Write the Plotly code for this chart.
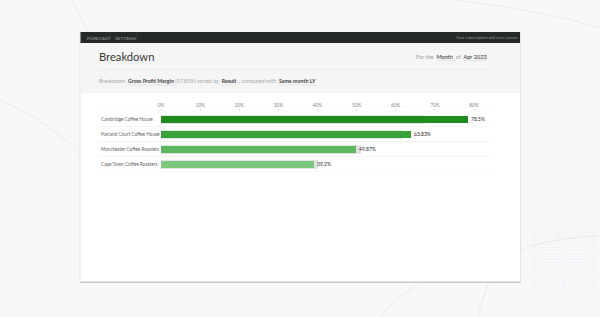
import plotly.graph_objects as go

# ---- data ----
categories = ["Cambridge Coffee House", "Harland Court Coffee House",
              "Manchester Coffee Roasters", "Cape Town Coffee Roasters"]
result_values = [78.5, 63.83, 49.87, 39.2]
comparison_values = [67.5, 61.6, 51.1, 40.0]
value_labels = ["78.5%", "63.83%", "49.87%", "39.2%"]
bar_colors = ["#1e8c1e", "#38a238", "#5cb85c", "#7cc87c"]
tick_values = [0, 10, 20, 30, 40, 50, 60, 70, 80]
tick_labels = ["0%", "10%", "20%", "30%", "40%", "50%", "60%", "70%", "80%"]

W, H = 600, 317
def px(x): return x / W
def py(y): return 1 - y / H

FONT = "Lato"
fig = go.Figure()

# decorative dot grid (background)
dx, dy = [], []
for i in range(20):
    for j in range(21):
        dx.append(535 + i * 3.05)
        dy.append(226 + j * 3.05)
fig.add_trace(go.Scatter(x=dx, y=dy, mode="markers", xaxis="x2", yaxis="y2",
                         marker=dict(size=1.1, color="#e8e8ee"),
                         hoverinfo="skip", showlegend=False))

# comparison (grey) bars
fig.add_trace(go.Bar(
    y=categories, x=comparison_values, orientation="h",
    marker=dict(color="#e2e2e2", line=dict(width=0)),
    width=0.6, hoverinfo="skip", showlegend=False))
# result bars
fig.add_trace(go.Bar(
    y=categories, x=result_values, orientation="h",
    marker=dict(color=bar_colors, line=dict(width=0)),
    width=0.44, text=value_labels, textposition="outside",
    textfont=dict(size=5, color="#2a2a2a", family=FONT),
    cliponaxis=False, showlegend=False))

shapes = []
# background arcs
arc_style = dict(color="#e6e6ea", width=0.8)
for path in (
    f"M {px(72)} {py(-2)} Q {px(95)} {py(60)} {px(160)} {py(110)}",
    f"M {px(0)} {py(100)} Q {px(50)} {py(120)} {px(85)} {py(160)}",
    f"M {px(600)} {py(236)} Q {px(530)} {py(238)} {px(500)} {py(262)}",
    f"M {px(500)} {py(262)} Q {px(485)} {py(285)} {px(478)} {py(317)}",
    f"M {px(455)} {py(0)} Q {px(540)} {py(10)} {px(600)} {py(28)}",
    f"M {px(380)} {py(317)} Q {px(400)} {py(295)} {px(420)} {py(282)}",
):
    shapes.append(dict(type="path", xref="paper", yref="paper", layer="below",
                       path=path, line=arc_style))
# card shadow
shapes.append(dict(type="rect", xref="paper", yref="paper", layer="below",
                   x0=px(80), x1=px(521), y0=py(283), y1=py(33),
                   fillcolor="#c9c9cc", line=dict(width=0)))
shapes.append(dict(type="rect", xref="paper", yref="paper", layer="below",
                   x0=px(79.5), x1=px(521), y0=py(282), y1=py(32),
                   fillcolor="#e4e4e6", line=dict(width=0)))
# card
shapes.append(dict(type="rect", xref="paper", yref="paper", layer="below",
                   x0=px(80.5), x1=px(520), y0=py(281), y1=py(32),
                   fillcolor="#ffffff", line=dict(width=0)))
# header area
shapes.append(dict(type="rect", xref="paper", yref="paper", layer="below",
                   x0=px(80.5), x1=px(520), y0=py(93), y1=py(43),
                   fillcolor="#f5f5f5", line=dict(width=0)))
shapes.append(dict(type="line", xref="paper", yref="paper", layer="below",
                   x0=px(97), x1=px(490), y0=py(70), y1=py(70),
                   line=dict(color="#e6e6e6", width=0.6)))
# nav bar
shapes.append(dict(type="rect", xref="paper", yref="paper", layer="below",
                   x0=px(80.5), x1=px(520), y0=py(43), y1=py(32),
                   fillcolor="#262b2a", line=dict(width=0)))
for xs in (110, 137):
    shapes.append(dict(type="line", xref="paper", yref="paper", layer="below",
                       x0=px(xs), x1=px(xs), y0=py(43), y1=py(32),
                       line=dict(color="#3c4241", width=0.6)))
# row separators
n = len(categories)
for k in range(n + 1):
    shapes.append(dict(type="line", xref="paper", yref="y", layer="below",
                       x0=px(97), x1=px(490), y0=k - 0.5, y1=k - 0.5,
                       line=dict(color="#ececec", width=0.6)))

annotations = []
def ann(x, y, text, size, color, xanchor="left"):
    annotations.append(dict(x=px(x), y=py(y), xref="paper", yref="paper",
                            text=text, showarrow=False, xanchor=xanchor,
                            yanchor="middle",
                            font=dict(size=size, color=color, family=FONT)))

ann(84.5, 37.5, "FORECAST", 4.6, "#9ea3a2")
ann(113, 37.5, "SETTINGS", 4.6, "#9ea3a2")
ann(520, 37.5, "Your subscription will start autom", 4.2, "#8a8f8e", xanchor="right")
ann(97, 56.5, "Breakdown", 11.2, "#3a3a3a")
ann(489, 56.5,
    'For the  <span style="color:#333">Month</span>  of  <span style="color:#333">Apr 2023</span>',
    5.6, "#a0a0a0", xanchor="right")
ann(97, 81,
    'Breakdown  <b><span style="color:#444">Gross Profit Margin</span></b> (57.85%) sorted by  '
    '<b><span style="color:#444">Result</span></b>  , compared with  '
    '<b><span style="color:#444">Same month LY</span></b>',
    5.3, "#a8a8a8")
# underlines in subtitle / header selectors
for x0, x1 in ((126, 174), (218, 236), (279, 317)):
    shapes.append(dict(type="line", xref="paper", yref="paper", layer="below",
                       x0=px(x0), x1=px(x1), y0=py(85), y1=py(85),
                       line=dict(color="#d8d8d8", width=0.6)))
for x0, x1 in ((438, 456), (463, 489)):
    shapes.append(dict(type="line", xref="paper", yref="paper", layer="below",
                       x0=px(x0), x1=px(x1), y0=py(60.5), y1=py(60.5),
                       line=dict(color="#d8d8d8", width=0.6)))

# category labels (left aligned)
for c in categories:
    annotations.append(dict(x=px(98.5), y=c, xref="paper", yref="y", text=c,
                            showarrow=False, xanchor="left", yanchor="middle",
                            font=dict(size=4.7, color="#666666", family=FONT)))

x_max = 84
x0p, x80p = 161, 474
scale = (x80p - x0p) / 80
fig.update_layout(
    width=W, height=H, margin=dict(l=0, r=0, t=0, b=0, pad=0, autoexpand=False),
    paper_bgcolor="#f8f8fa", plot_bgcolor="rgba(0,0,0,0)",
    barmode="overlay", bargap=0,
    font=dict(family=FONT),
    xaxis=dict(domain=[px(x0p), px(x0p + x_max * scale)], range=[0, x_max],
               side="top", tickmode="array", tickvals=tick_values,
               ticktext=tick_labels, automargin=False,
               tickfont=dict(size=4.8, color="#888888", family=FONT),
               showgrid=False, zeroline=False, showline=False,
               ticks="outside", ticklen=2, tickcolor="#dddddd", tickwidth=0.6,
               fixedrange=True),
    yaxis=dict(domain=[py(171.5), py(111.5)], range=[3.5, -0.5],
               type="category", categoryorder="array", categoryarray=categories,
               showticklabels=False, showgrid=False, zeroline=False,
               showline=False, fixedrange=True, automargin=False),
    xaxis2=dict(domain=[0, 1], range=[0, W], visible=False, fixedrange=True,
                automargin=False),
    yaxis2=dict(domain=[0, 1], range=[H, 0], visible=False, fixedrange=True,
                anchor="x2", automargin=False),
    shapes=shapes, annotations=annotations,
)
fig.write_html("out.html")
